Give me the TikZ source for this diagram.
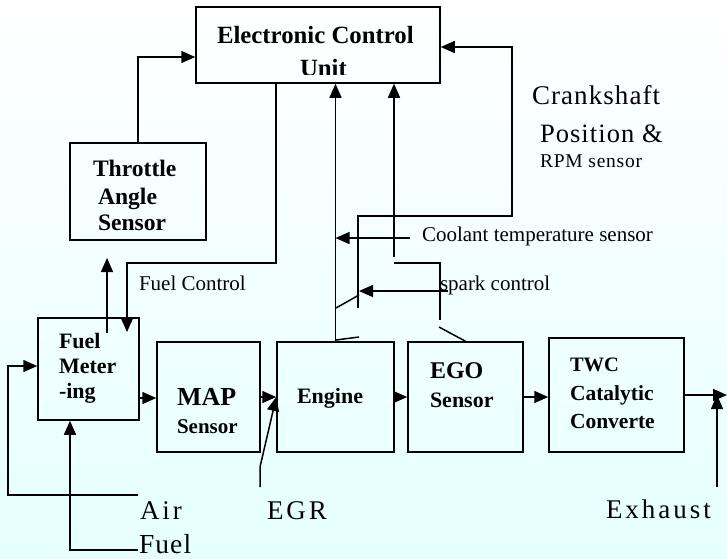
\documentclass[tikz,border=0pt]{standalone}
\usepackage{fontspec}
\setmainfont{Liberation Serif}
\newfontfamily\palfont[LetterSpace=4]{Liberation Serif}
\newfontfamily\widefont[LetterSpace=11]{Liberation Serif}
\usetikzlibrary{arrows.meta,calc}
\newcommand\setfs[1]{\fontsize{#1}{#1}\selectfont}
\begin{document}
\begin{tikzpicture}[x=1pt,y=-1pt,
  box/.style={draw,line width=1.5pt,inner sep=0pt},
  ln/.style={line width=1.5pt},
  arr/.style={line width=1.5pt,-{Triangle[length=14pt,width=12pt]}},
  txt/.style={anchor=base west,inner sep=0pt,outer sep=0pt},
  boldtxt/.style={txt,font=\bfseries\setfs{#1}},
  romtxt/.style={txt,font=\setfs{#1}},
  paltxt/.style={txt,font=\palfont\setfs{#1}},
  widetxt/.style={txt,font=\widefont\setfs{#1}}]
\useasboundingbox (0,0) rectangle (727,558);
\shade[top color=white,bottom color=cyan!10] (0,0) rectangle (727,558);
% boxes
\node[box,minimum width=244pt,minimum height=76pt] (ecu) at (318,45) {};
\node[box,minimum width=136pt,minimum height=97pt] (tas) at (138,191.5) {};
\node[box,minimum width=101pt,minimum height=102pt] (fm) at (88.5,369) {};
\node[box,minimum width=103pt,minimum height=110pt] (map) at (208.5,397) {};
\node[box,minimum width=117pt,minimum height=110pt] (eng) at (335.5,397) {};
\node[box,minimum width=115pt,minimum height=110pt] (ego) at (465.5,397) {};
\node[box,minimum width=135pt,minimum height=114pt] (twc) at (616.5,395) {};
% box texts
\node[boldtxt=24.8] (ecu1) at (217,43) {Electronic Control};
\begin{scope}
\clip (196,7) rectangle (440,74);
\node[boldtxt=24.8] (ecu2) at (300,76) {Unit};
\end{scope}
\node[boldtxt=23.6] (tas1) at (93,176) {Throttle};
\node[boldtxt=23.6] (tas2) at (98,204) {Angle};
\node[boldtxt=23.6] (tas3) at (98,230) {Sensor};
\node[boldtxt=22] (fm1) at (59,348) {Fuel};
\node[boldtxt=22] (fm2) at (59,373) {Meter};
\node[boldtxt=22] (fm3) at (59,398) {-ing};
\node[boldtxt=26] (map1) at (177,405) {MAP};
\node[boldtxt=21] (map2) at (177,433) {Sensor};
\node[boldtxt=22] (eng1) at (297,403) {Engine};
\node[boldtxt=24] (ego1) at (430,378) {EGO};
\node[boldtxt=22] (ego2) at (430,407) {Sensor};
\node[boldtxt=20.5] (twc1) at (570,371) {TWC};
\node[boldtxt=21.5] (twc2) at (570,400) {Catalytic};
\node[boldtxt=21.5] (twc3) at (570,428) {Converte};
% free labels
\node[romtxt=21] (lfc) at (139,290) {Fuel Control};
\node[romtxt=21] (lcool) at (422,241) {Coolant temperature sensor};
\node[romtxt=21] (lspark) at (440,290) {spark control};
\node[paltxt=27] (lcr1) at (532,104) {Crankshaft};
\node[paltxt=26.5] (lcr2) at (540,142) {Position \&};
\node[paltxt=19.5] (lcr3) at (540,167) {RPM sensor};
\node[widetxt=27] (lair) at (140,519) {Air};
\node[widetxt=27] (legr) at (267,519) {EGR};
\node[widetxt=27] (lexh) at (606,518) {Exhaust};
\node[paltxt=27.5] (lfuel) at (139,553) {Fuel};
% coordinates
\coordinate (fc1) at (276,263);
\coordinate (fc2) at (127,263);
\coordinate (fmin) at (127,332);
\coordinate (ft0) at (107,333);
\coordinate (ft1) at (107,258);
\coordinate (air0) at (138,495);
\coordinate (air1) at (8,495);
\coordinate (air2) at (8,366);
\coordinate (fu0) at (138,550);
\coordinate (fu1) at (70,550);
\coordinate (a6) at (139,398);
\coordinate (egr0) at (260,487);
\coordinate (egr1) at (260,467);
\coordinate (out) at (727,395);
\coordinate (ex0) at (717,487);
\coordinate (cl0) at (410,238);
\coordinate (v2) at (394,257);
\coordinate (cr0) at (358,308);
\coordinate (cr1) at (358,216);
\coordinate (cr2) at (512,216);
\coordinate (cr3) at (512,47);
\coordinate (sp0) at (394,263);
\coordinate (sp1) at (440,263);
\coordinate (sp2) at (440,320);
\coordinate (sp3) at (439,327);
\coordinate (sa0) at (448,291);
\coordinate (sa1) at (359,291);
\coordinate (k0) at (336,308);
\coordinate (k1) at (359,295);
\coordinate (k2) at (336,340);
\coordinate (k3) at (359,337);
% connectors
\draw[arr] (tas.north) |- ([yshift=-12pt]ecu.west);
\draw[arr] (ecu.south -| fc1) -- (fc1) -- (fc2) -- (fmin);
\draw[arr] (ft0) -- (ft1);
\draw[arr] (air0) -- (air1) -- (air2) -- (air2 -| fm.west);
\draw[arr] (fu0) -- (fu1) -- (fu1 |- fm.south);
\draw[arr] (a6) -- (a6 -| map.west);
\draw[arr] (map.east) -- (eng.west);
\draw[arr] (egr0) -- (egr1) -- (eng.west);
\draw[arr] (eng.east) -- (ego.west);
\draw[arr] (ego.east) -- (ego.east -| twc.west);
\draw[arr] (twc.east) -- (out);
\draw[arr] (ex0) -- (ex0 |- twc.east);
\draw[arr] (eng.north) -- (eng.north |- ecu.south);
\draw[arr] (cl0) -- (cl0 -| eng.north);
\draw[arr] (v2) -- (v2 |- ecu.south);
\draw[arr] (cr0) -- (cr1) -- (cr2) -- (cr3) -- (cr3 -| ecu.east);
\draw[ln] (sp0) -- (sp1) -- (sp2);
\draw[ln] (sp3) -- (ego.north);
\draw[arr] (sa0) -- (sa1);
\draw[ln] (k0) -- (k1);
\draw[ln] (k2) -- (k3);
\end{tikzpicture}
\end{document}
